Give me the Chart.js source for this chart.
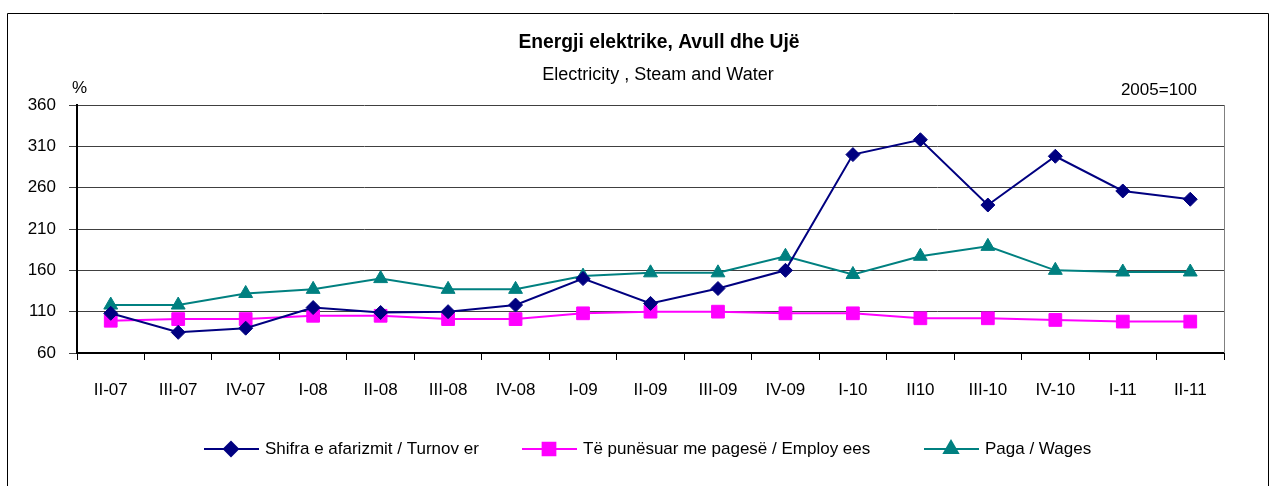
<!DOCTYPE html>
<html>
<head>
<meta charset="utf-8">
<script src="https://cdn.jsdelivr.net/npm/chart.js@4"></script>
<style>
  body { margin: 0; background: #fff; }
  #wrap { width: 1270px; height: 486px; }
</style>
</head>
<body>
<div id="wrap"><canvas id="grafik" width="1270" height="486"></canvas></div>
<script>
const kategorite = ['II-07', 'III-07', 'IV-07', 'I-08', 'II-08', 'III-08', 'IV-08', 'I-09', 'II-09', 'III-09', 'IV-09', 'I-10', 'II10', 'III-10', 'IV-10', 'I-11', 'II-11'];
const shifra = [108, 85, 90, 115, 109, 110, 118, 150, 120, 138, 160, 300, 318, 239, 298, 256, 246];
const punesuar = [99, 101, 101, 105, 105, 101, 101, 108, 110, 110, 108, 108, 102, 102, 100, 98, 98];
const paga = [118, 118, 132, 137, 150, 137, 137, 153, 157, 157, 177, 155, 177, 189, 160, 158, 158];
const yTicks = [60, 110, 160, 210, 260, 310, 360];

const FONT = "'Liberation Sans Narrow', 'Arial Narrow', 'Liberation Sans', Arial, sans-serif";

// tekstet, kornizat dhe legjenda
const dekor = {
    id: 'dekor',
    afterDraw(chart) {
        const c = chart.ctx;
        const a = chart.chartArea;
        c.save();
        c.strokeStyle = '#000';
        c.lineWidth = 1;
        c.beginPath();
        c.moveTo(7.5, 490); c.lineTo(7.5, 13.5); c.lineTo(1268.5, 13.5); c.lineTo(1268.5, 490);
        c.stroke();

        c.strokeStyle = '#808080';
        c.beginPath();
        c.moveTo(a.right + 0.5, a.top); c.lineTo(a.right + 0.5, a.bottom);
        c.stroke();

        c.fillStyle = '#000';
        c.textBaseline = 'middle';
        c.textAlign = 'center';
        c.font = 'bold 19.3px ' + FONT;
        c.fillText('Energji elektrike, Avull dhe Ujë', 659, 43);
        c.font = '18px ' + FONT;
        c.fillText('Electricity , Steam and Water', 658, 75);
        c.font = '17px ' + FONT;
        c.textAlign = 'left';
        c.fillText('%', 72, 88);
        c.textAlign = 'right';
        c.fillText('2005=100', 1197, 90);

        const items = [
            { x: 204, tx: 265, text: 'Shifra e afarizmit / Turnov er', ds: 0 },
            { x: 522, tx: 583, text: 'Të punësuar me pagesë / Employ ees', ds: 1 },
            { x: 924, tx: 985, text: 'Paga / Wages', ds: 2 }
        ];
        const y = 449;
        items.forEach(it => {
            const d = chart.data.datasets[it.ds];
            c.strokeStyle = d.borderColor;
            c.lineWidth = 2;
            c.beginPath();
            c.moveTo(it.x, y); c.lineTo(it.x + 55, y);
            c.stroke();
            Chart.helpers.drawPoint(c, {
                pointStyle: d.pointStyle,
                radius: d.pointRadius,
                borderWidth: 1
            }, it.x + 27, y);
            c.fillStyle = d.backgroundColor;
            c.fill();
            c.fillStyle = '#000';
            c.textAlign = 'left';
            c.font = '17px ' + FONT;
            c.fillText(it.text, it.tx, y);
        });
        c.restore();
    }
};

const ctx = document.getElementById('grafik');
new Chart(ctx, {
    type: 'line',
    data: {
        labels: kategorite,
        datasets: [{
            label: 'Shifra e afarizmit / Turnover',
            data: shifra,
            borderColor: '#000080',
            backgroundColor: '#000080',
            borderWidth: 2,
            pointStyle: 'rectRot',
            pointRadius: 7,
            pointBorderWidth: 1
        }, {
            label: 'Të punësuar me pagesë / Employees',
            data: punesuar,
            borderColor: '#ff00ff',
            backgroundColor: '#ff00ff',
            borderWidth: 2,
            pointStyle: 'rect',
            pointRadius: 9,
            pointBorderWidth: 1
        }, {
            label: 'Paga / Wages',
            data: paga,
            borderColor: '#008080',
            backgroundColor: '#008080',
            borderWidth: 2,
            pointStyle: 'triangle',
            pointRadius: 8,
            pointBorderWidth: 1
        }]
    },
    options: {
        responsive: false,
        animation: false,
        events: [],
        layout: { padding: { left: 0, top: 105, right: 46, bottom: 83 } },
        plugins: {
            legend: { display: false },
            title: { display: false },
            tooltip: { enabled: false }
        },
        scales: {
            x: {
                offset: true,
                afterFit(s) { s.height = 50; },
                grid: { offset: true, drawOnChartArea: false, color: '#000', tickLength: 7 },
                border: { color: '#000', width: 2 },
                ticks: { color: '#000', padding: 20, maxRotation: 0, autoSkip: false, font: { family: FONT, size: 17 } }
            },
            y: {
                min: 60,
                max: 360,
                afterFit(s) { s.width = 77; },
                afterBuildTicks(s) { s.ticks = yTicks.map(v => ({ value: v })); },
                grid: { color: '#404040', tickLength: 8 },
                border: { color: '#000', width: 2 },
                ticks: { color: '#000', padding: 13, font: { family: FONT, size: 17 } }
            }
        }
    },
    plugins: [dekor]
});
</script>
</body>
</html>
